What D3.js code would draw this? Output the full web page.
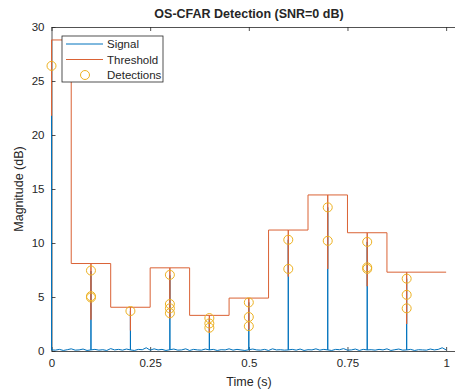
<!DOCTYPE html>
<html>
<head>
<meta charset="utf-8">
<script src="https://cdn.jsdelivr.net/npm/d3@7"></script>
<style>
  body { margin: 0; background: #fff; }
  svg { display: block; }
  text { font-family: "Liberation Sans", Arial, Helvetica, sans-serif; fill: #262626; }
</style>
</head>
<body>
<svg width="455" height="391"></svg>
<script>
const xTicks = [0, 0.25, 0.5, 0.75, 1]
const xTickLabels = ['0', '0.25', '0.5', '0.75', '1']
const yTicks = [0, 5, 10, 15, 20, 25, 30]

// noise floor of the signal, one value every 0.01 s (0 .. 1)
const noise = [0.1, 0.08, 0.15, 0.05, 0.12, 0.2, 0.08, 0.1, 0.18, 0.05,
    0.1, 0.15, 0.08, 0.12, 0.05, 0.22, 0.1, 0.15, 0.08, 0.18,
    0.1, 0.05, 0.15, 0.12, 0.3, 0.08, 0.2, 0.1, 0.15, 0.05,
    0.12, 0.18, 0.08, 0.1, 0.2, 0.05, 0.15, 0.1, 0.08, 0.18,
    0.1, 0.15, 0.05, 0.12, 0.1, 0.2, 0.08, 0.15, 0.1, 0.05,
    0.12, 0.18, 0.1, 0.08, 0.15, 0.05, 0.2, 0.1, 0.12, 0.08,
    0.1, 0.15, 0.08, 0.18, 0.05, 0.12, 0.1, 0.2, 0.08, 0.15,
    0.1, 0.05, 0.15, 0.12, 0.22, 0.08, 0.1, 0.18, 0.05, 0.15,
    0.1, 0.12, 0.08, 0.15, 0.1, 0.2, 0.05, 0.12, 0.18, 0.08,
    0.1, 0.15, 0.05, 0.12, 0.1, 0.08, 0.18, 0.1, 0.15, 0.3, 0.1]

const targetTimes = [0, 0.1, 0.2, 0.3, 0.4, 0.5, 0.6, 0.7, 0.8, 0.9]
const targetPeaks = [26.4, 7.4, 3.7, 7.0, 3.0, 4.5, 10.3, 13.3, 10.1, 6.7]

const thresholdEdges = [0, 0.05, 0.15, 0.25, 0.35, 0.45, 0.55, 0.65, 0.75, 0.85, 1]
const thresholdLevels = [28.8, 8.1, 4.05, 7.7, 3.3, 4.9, 11.2, 14.45, 10.95, 7.3]
const thresholdDips = [21.8, 2.9, 1.9, 3.0, 1.7, 2.0, 6.9, 7.6, 6.0, 2.5]

const detTimes = [0, 0.1, 0.1, 0.1, 0.2, 0.3, 0.3, 0.3, 0.3, 0.4, 0.4, 0.4,
    0.5, 0.5, 0.5, 0.6, 0.6, 0.7, 0.7, 0.8, 0.8, 0.8, 0.9, 0.9, 0.9]
const detValues = [26.4, 7.45, 5.08, 4.95, 3.7, 7.05, 4.35, 3.95, 3.5, 3.05, 2.55, 2.15,
    4.5, 3.15, 2.3, 10.3, 7.6, 13.3, 10.2, 10.1, 7.75, 7.6, 6.7, 5.2, 3.95]

const colors = ['#0072BD', '#DA6235', '#EDB120']

const svg = d3.select('svg')
const margin = { left: 51.5, top: 27, bottom: 351 }

const x = d3.scaleLinear().domain([0, 1.025]).range([margin.left, 456])
const y = d3.scaleLinear().domain([0, 30]).range([margin.bottom, margin.top])

// signal points
const signalPts = []
noise.forEach((v, i) => {
    const t = i / 100
    signalPts.push([t, v])
    const k = targetTimes.findIndex(tt => Math.abs(tt - t) < 1e-9)
    if (k >= 0) {
        signalPts.push([t, targetPeaks[k]])
        signalPts.push([t, v])
    }
})

// threshold points (step function with dips at target cells)
const thrPts = []
thresholdLevels.forEach((level, i) => {
    const t0 = thresholdEdges[i], t1 = thresholdEdges[i + 1]
    thrPts.push([t0, level])
    targetTimes.forEach((tt, k) => {
        if (tt >= t0 && tt < t1) {
            thrPts.push([tt, level], [tt, thresholdDips[k]], [tt, level])
        }
    })
    thrPts.push([t1, level])
})

const line = d3.line().x(d => x(d[0])).y(d => y(d[1]))

// axes frame
const axisColor = '#262626'
const xAxisB = d3.axisBottom(x).tickValues(xTicks).tickFormat((d, i) => xTickLabels[i]).tickSizeInner(-4).tickSizeOuter(0).tickPadding(8)
const xAxisT = d3.axisTop(x).tickValues(xTicks).tickFormat('').tickSizeInner(-4).tickSizeOuter(0)
const yAxisL = d3.axisLeft(y).tickValues(yTicks).tickSizeInner(-4).tickSizeOuter(0).tickPadding(7)

function styleAxis(g) {
    g.selectAll('path, line').attr('stroke', axisColor).attr('stroke-width', 0.8)
    g.selectAll('text').attr('fill', axisColor).style('font-size', '11.5px')
        .style('font-family', '"Liberation Sans", Arial, sans-serif')
}

svg.append('g').attr('transform', `translate(0,${margin.bottom})`).call(xAxisB).call(styleAxis)
svg.append('g').attr('transform', `translate(0,${margin.top})`).call(xAxisT).call(styleAxis)
svg.append('g').attr('transform', `translate(${margin.left},0)`).call(yAxisL).call(styleAxis)

svg.append('path')
    .attr('d', line(signalPts))
    .attr('fill', 'none')
    .attr('stroke', colors[0])
    .attr('stroke-width', 1)

svg.append('path')
    .attr('d', line(thrPts))
    .attr('fill', 'none')
    .attr('stroke', colors[1])
    .attr('stroke-width', 1)

svg.selectAll('circle.det')
    .data(detTimes)
    .enter().append('circle')
    .attr('class', 'det')
    .attr('cx', d => x(d))
    .attr('cy', (d, i) => y(detValues[i]))
    .attr('r', 4.5)
    .attr('fill', 'none')
    .attr('stroke', colors[2])
    .attr('stroke-width', 1)

// titles
svg.append('text')
    .attr('x', 249).attr('y', 18)
    .attr('text-anchor', 'middle')
    .style('font-size', '12.5px').style('font-weight', 'bold')
    .text('OS-CFAR Detection (SNR=0 dB)')

svg.append('text')
    .attr('x', 249).attr('y', 386)
    .attr('text-anchor', 'middle')
    .style('font-size', '12.5px')
    .text('Time (s)')

svg.append('text')
    .attr('transform', `translate(23,${(margin.top + margin.bottom) / 2}) rotate(-90)`)
    .attr('text-anchor', 'middle')
    .style('font-size', '12.5px')
    .text('Magnitude (dB)')

// legend
const legend = svg.append('g').attr('transform', 'translate(62,36)')
legend.append('rect')
    .attr('width', 101).attr('height', 46)
    .attr('fill', '#fff').attr('stroke', axisColor).attr('stroke-width', 0.8)
const legendNames = ['Signal', 'Threshold', 'Detections']
legendNames.forEach((name, i) => {
    const ly = 8 + i * 15.5
    if (i < 2) {
        legend.append('line')
            .attr('x1', 4).attr('x2', 41).attr('y1', ly).attr('y2', ly)
            .attr('stroke', colors[i]).attr('stroke-width', 1)
    } else {
        legend.append('circle')
            .attr('cx', 23).attr('cy', ly).attr('r', 4.5)
            .attr('fill', 'none').attr('stroke', colors[2]).attr('stroke-width', 1)
    }
    legend.append('text')
        .attr('x', 45).attr('y', ly + 4)
        .style('font-size', '11.5px')
        .text(name)
})
</script>
</body>
</html>
